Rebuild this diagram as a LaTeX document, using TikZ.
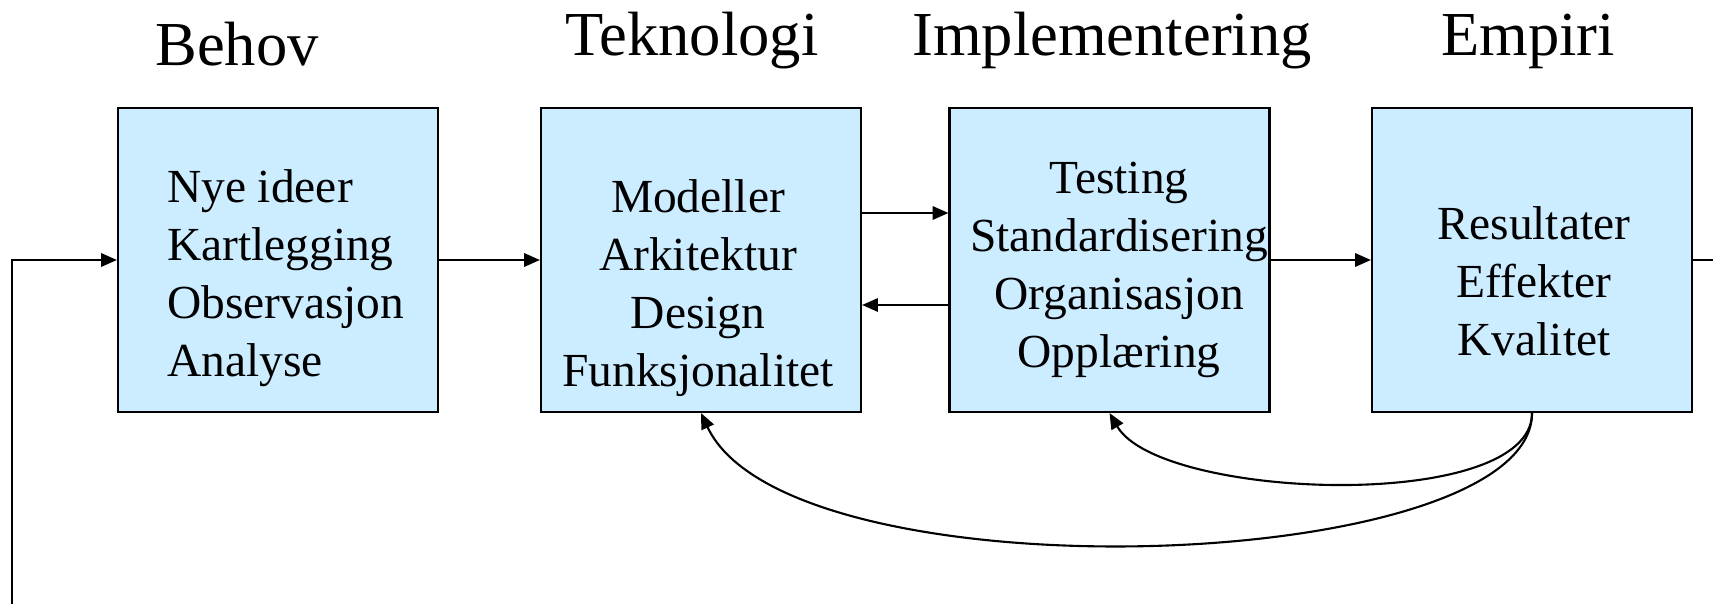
\documentclass[tikz,border=0pt]{standalone}
\usepackage{fontspec}
\setmainfont{Liberation Serif}
\usetikzlibrary{arrows.meta}
\definecolor{boxblue}{RGB}{204,236,255}
\tikzset{
  phase/.style={draw,fill=boxblue,minimum width=3.2cm,minimum height=3.04cm,inner sep=0},
  heading/.style={font=\fontsize{17.8}{21}\selectfont,anchor=base,inner sep=0},
  items/.style={font=\fontsize{13.5}{16.44}\selectfont,anchor=base,inner sep=0,align=center},
}
\begin{document}
\begin{tikzpicture}[line width=0.6pt,>={Triangle[length=4.5pt,width=3.8pt]}]
  \useasboundingbox (0,0) rectangle (17.13,-6.04);

  \node (behov) at (2.37,-0.66) [heading]{Behov};
  \node (tekn) at (6.92,-0.56) [heading]{Teknologi};
  \node (impl) at (11.12,-0.56) [heading]{Implementering};
  \node (empiri) at (15.28,-0.56) [heading]{Empiri};

  \node (b1) at (2.78,-2.60) [phase]{};
  \node (b2) at (7.01,-2.60) [phase]{};
  \node (b3) at (11.095,-2.60) [phase]{};
  \node (b4) at (15.32,-2.60) [phase]{};

  % anchored at the baseline of the last line
  \node (b1txt) at (1.66,-3.76) [items,anchor=base west,align=left]{Nye ideer\\Kartlegging\\Observasjon\\Analyse};
  \node (b2txt) at (6.98,-3.86) [items]{Modeller\\Arkitektur\\Design\\Funksjonalitet};
  \node (b3txt) at (11.19,-3.67) [items]{Testing\\Standardisering\\Organisasjon\\Oppl{\ae}ring};
  \node (b4txt) at (15.34,-3.55) [items]{Resultater\\Effekter\\Kvalitet};

  \coordinate (inl) at (0.12,-6.04);
  \coordinate (outr) at (17.13,-2.60);

  \draw[->] (b1) -- (b2);
  \draw[->] ([yshift=0.47cm]b2.east) -- ([yshift=0.47cm]b3.west);
  \draw[->] ([yshift=-0.45cm]b3.west) -- ([yshift=-0.45cm]b2.east);
  \draw[->] (b3) -- (b4);
  \draw (b4) -- (outr);
  \draw[->] (inl) |- (b1);

  % feedback from the results
  \draw[->] (b4.south) to[out=-90,in=-65,out looseness=0.5,in looseness=0.64] (b2.south);
  \draw[->] (b4.south) to[out=-90,in=-60,looseness=0.61] (b3.south);

\end{tikzpicture}
\end{document}
